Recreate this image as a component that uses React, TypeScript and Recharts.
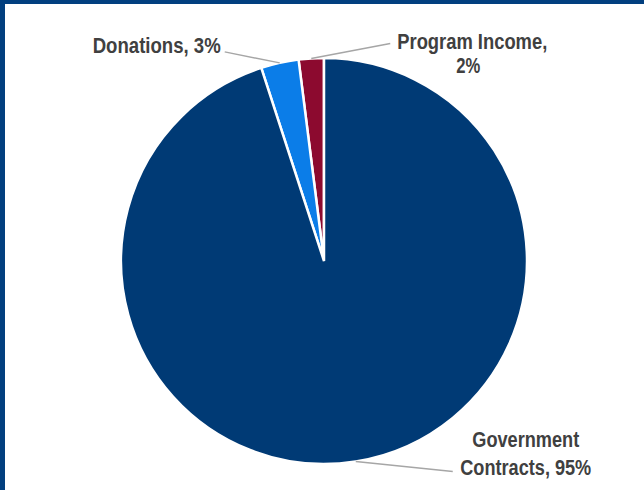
import React from "react";
import { PieChart, Pie, Cell } from "recharts";

const names = ["Program Income", "Donations", "Government Contracts"];
const shares = [2, 3, 95];
const colors = ["#8c0a2f", "#0b7de8", "#003a75"];

// label text lines (text, width the narrow font takes up)
const labelLines = [
  [["Program Income,", 150], ["2%", 24]],
  [["Donations, 3%", 128]],
  [["Government", 107], ["Contracts, 95%", 131]],
];
// where the leader line ends, relative to the slice edge
const labelOffsets = [
  { dx: 79, dy: -15 },
  { dx: -55, dy: -11 },
  { dx: 97, dy: 10 },
];

const data = names.map((n, i) => ({ name: n, value: shares[i] }));

const RADIAN = Math.PI / 180;
const FONT = "'Liberation Sans', Arial, sans-serif";

const Line = ({ x, y, anchor, text, width }: any) => (
  <text
    x={x}
    y={y}
    textAnchor={anchor}
    fill="#404040"
    fontFamily={FONT}
    fontWeight="bold"
    fontSize={22}
    textLength={width}
    lengthAdjust="spacingAndGlyphs"
  >
    {text}
  </text>
);

const renderLabel = (props: any) => {
  const { cx, cy, midAngle, outerRadius, index } = props;
  const sx = cx + outerRadius * Math.cos(-midAngle * RADIAN);
  const sy = cy + outerRadius * Math.sin(-midAngle * RADIAN);
  const off = labelOffsets[index];
  const ex = sx + off.dx;
  const ey = sy + off.dy;
  const lines = labelLines[index];
  let text;
  if (index === 0) {
    text = (
      <g>
        <Line x={ex + 7} y={ey + 6} anchor="start" text={lines[0][0]} width={lines[0][1]} />
        <Line x={ex + 78} y={ey + 30} anchor="middle" text={lines[1][0]} width={lines[1][1]} />
      </g>
    );
  } else if (index === 1) {
    text = <Line x={ex - 4} y={ey + 1} anchor="end" text={lines[0][0]} width={lines[0][1]} />;
  } else {
    text = (
      <g>
        <Line x={ex + 73} y={ey - 25} anchor="middle" text={lines[0][0]} width={lines[0][1]} />
        <Line x={ex + 73} y={ey + 3} anchor="middle" text={lines[1][0]} width={lines[1][1]} />
      </g>
    );
  }
  return (
    <g>
      <path d={`M${sx},${sy}L${ex},${ey}`} stroke="#a6a6a6" strokeWidth={1.5} fill="none" />
      {text}
    </g>
  );
};

export default function App() {
  return (
    <div style={{ position: "fixed", left: 0, top: 0, width: 644, height: 490, background: "#fff" }}>
      <div style={{ position: "absolute", left: 0, top: 0, width: 644, height: 4, background: "#023f7f" }} />
      <div style={{ position: "absolute", left: 0, top: 0, width: 5, height: 490, background: "#023f7f" }} />
      <PieChart width={644} height={490} margin={{ top: 0, right: 0, bottom: 0, left: 0 }}>
        <Pie
          data={data}
          dataKey="value"
          nameKey="name"
          cx={324}
          cy={261}
          outerRadius={203}
          startAngle={90}
          endAngle={450}
          stroke="#ffffff"
          strokeWidth={2.5}
          label={renderLabel}
          labelLine={false}
          isAnimationActive={false}
        >
          {data.map((d, i) => (
            <Cell key={d.name} fill={colors[i]} />
          ))}
        </Pie>
      </PieChart>
    </div>
  );
}
